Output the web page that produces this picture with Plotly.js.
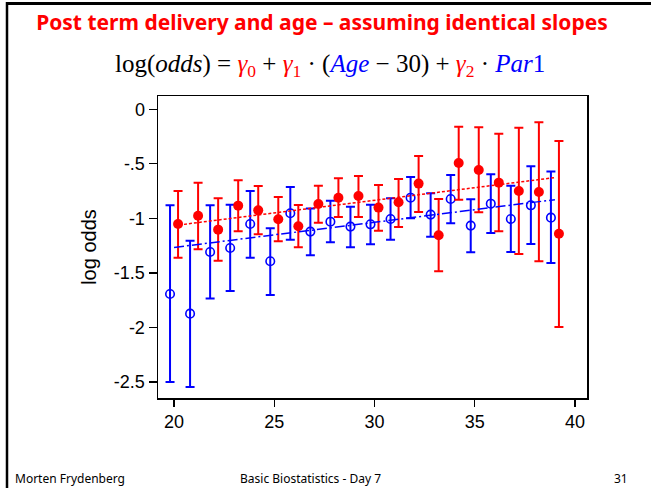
<!DOCTYPE html>
<html>
<head>
<meta charset="utf-8">
<script src="https://cdn.plot.ly/plotly-3.0.1.min.js"></script>
<style>
  html, body { margin: 0; padding: 0; background: #ffffff; }
  #chart { width: 651px; height: 488px; }
</style>
</head>
<body>
<div id="chart"></div>
<script>
// ---- data ----
const ages = [20,21,22,23,24,25,26,27,28,29,30,31,32,33,34,35,36,37,38,39];

// Parity 1 (blue, hollow): estimate, lower and upper CI
const blueEst   = [-1.693,-1.873,-1.308,-1.271,-1.051,-1.393,-0.953,-1.121,-1.030,-1.075,-1.054,-1.005,-0.810,-0.965,-0.822,-1.066,-0.865,-1.005,-0.880,-0.993];
const blueLower = [-2.499,-2.545,-1.735,-1.665,-1.360,-1.702,-1.195,-1.338,-1.219,-1.265,-1.237,-1.195,-0.999,-1.167,-1.045,-1.311,-1.134,-1.308,-1.234,-1.409];
const blueUpper = [-0.880,-1.204,-0.880,-0.874,-0.749,-1.091,-0.712,-0.910,-0.837,-0.892,-0.874,-0.816,-0.620,-0.770,-0.602,-0.825,-0.596,-0.700,-0.522,-0.571];

// Parity >1 (red, filled): estimate, lower and upper CI
const redEst   = [-1.051,-0.975,-1.103,-0.883,-0.926,-1.008,-1.072,-0.868,-0.810,-0.794,-0.901,-0.852,-0.681,-1.155,-0.492,-0.556,-0.672,-0.749,-0.758,-1.140];
const redLower = [-1.360,-1.283,-1.387,-1.118,-1.146,-1.210,-1.265,-1.039,-0.987,-0.987,-1.112,-1.078,-0.941,-1.485,-0.828,-0.944,-1.118,-1.326,-1.393,-1.995];
const redUpper = [-0.749,-0.672,-0.816,-0.651,-0.703,-0.804,-0.877,-0.700,-0.632,-0.611,-0.694,-0.639,-0.428,-0.822,-0.159,-0.165,-0.223,-0.168,-0.119,-0.290];

// fitted lines (identical slopes), end points
const fitAges = [20, 39];
const redFit  = [-1.066, -0.626];
const blueFit = [-1.266, -0.828];

// tick labels
const yTickVals = [0, -0.5, -1, -1.5, -2, -2.5];
const yTickText = ['0', '-.5', '-1', '-1.5', '-2', '-2.5'];
const xTickVals = [20, 25, 30, 35, 40];
const xTickText = ['20', '25', '30', '35', '40'];

// ---- drawing ----
const W = 651, H = 488;
const M = {l: 158, r: 64, t: 96, b: 90};
const PW = W - M.l - M.r, PH = H - M.t - M.b;
const fx = px => (px - M.l) / PW;
const fy = py => (H - M.b - py) / PH;

const blueX = ages.map(a => a - 0.2);
const redX  = ages.map(a => a + 0.2);

const traces = [
  {
    x: blueX, y: blueEst, type: 'scatter', mode: 'markers',
    marker: {symbol: 'circle-open', size: 8.5, color: '#0000ff', line: {width: 1.6, color: '#0000ff'}},
    error_y: {
      type: 'data', symmetric: false,
      array: blueUpper.map((u, i) => u - blueEst[i]),
      arrayminus: blueLower.map((l, i) => blueEst[i] - l),
      color: '#0000ff', thickness: 2, width: 4.5
    },
    hoverinfo: 'skip'
  },
  {
    x: redX, y: redEst, type: 'scatter', mode: 'markers',
    marker: {symbol: 'circle', size: 10, color: '#ff0000', line: {width: 0}},
    error_y: {
      type: 'data', symmetric: false,
      array: redUpper.map((u, i) => u - redEst[i]),
      arrayminus: redLower.map((l, i) => redEst[i] - l),
      color: '#ff0000', thickness: 2, width: 4.5
    },
    hoverinfo: 'skip'
  },
  {
    x: fitAges, y: redFit, type: 'scatter', mode: 'lines',
    line: {color: '#ff0000', width: 1.5, dash: '3px,2px'}, hoverinfo: 'skip'
  },
  {
    x: fitAges, y: blueFit, type: 'scatter', mode: 'lines',
    line: {color: '#0000ff', width: 1.5, dash: '10px,3px,2px,3px'}, hoverinfo: 'skip'
  }
];

const footFont = {family: 'Comic Sans MS, Noto Sans, sans-serif', size: 12, color: '#000000'};

const layout = {
  width: W, height: H,
  margin: M,
  paper_bgcolor: '#ffffff', plot_bgcolor: '#ffffff',
  showlegend: false,
  font: {family: 'Liberation Sans, Arial, sans-serif', size: 18, color: '#000000'},
  title: {
    text: '<b>Post term delivery and age \u2013 assuming identical slopes</b>',
    font: {family: 'Comic Sans MS, Noto Sans, sans-serif', size: 21, color: '#ff0000'},
    x: 322 / W, xref: 'container', xanchor: 'center',
    y: 1 - 23 / H, yref: 'container', yanchor: 'middle'
  },
  xaxis: {
    range: [19.2, 40.6],
    tickvals: xTickVals, ticktext: xTickText,
    ticks: 'outside', ticklen: 7, tickwidth: 1.2, tickcolor: '#000000',
    showline: true, linecolor: '#000000', linewidth: 1.5, mirror: true,
    showgrid: false, zeroline: false,
    tickfont: {family: 'Liberation Sans, Arial, sans-serif', size: 18}
  },
  yaxis: {
    range: [-2.646, 0.122],
    tickvals: yTickVals, ticktext: yTickText,
    ticks: 'outside', ticklen: 8, tickwidth: 1.2, tickcolor: '#000000',
    showline: true, linecolor: '#000000', linewidth: 1.5, mirror: true,
    showgrid: false, zeroline: false,
    tickfont: {family: 'Liberation Sans, Arial, sans-serif', size: 18},
    title: {text: 'log odds', font: {family: 'Liberation Sans, Arial, sans-serif', size: 20}, standoff: 12}
  },
  annotations: [
    {
      xref: 'paper', yref: 'paper', x: fx(330), y: fy(66), xanchor: 'center', yanchor: 'middle',
      showarrow: false,
      font: {family: 'Liberation Serif, Times New Roman, serif', size: 25, color: '#000000'},
      text: 'log(<i>odds</i>) = <span style="color:#ff0000"><i>\u03b3</i><sub>0</sub></span> + ' +
            '<span style="color:#ff0000"><i>\u03b3</i><sub>1</sub></span> \u00b7 (<span style="color:#0000ff"><i>Age</i></span> \u2212 30) + ' +
            '<span style="color:#ff0000"><i>\u03b3</i><sub>2</sub></span> \u00b7 <span style="color:#0000ff"><i>Par</i>1</span>'
    },
    {xref: 'paper', yref: 'paper', x: fx(13), y: fy(478), xanchor: 'left', yanchor: 'middle',
     showarrow: false, font: footFont, text: 'Morten Frydenberg'},
    {xref: 'paper', yref: 'paper', x: fx(238), y: fy(478), xanchor: 'left', yanchor: 'middle',
     showarrow: false, font: footFont, text: 'Basic Biostatistics - Day 7'},
    {xref: 'paper', yref: 'paper', x: fx(621), y: fy(478), xanchor: 'center', yanchor: 'middle',
     showarrow: false, font: footFont, text: '31'}
  ],
  shapes: [
    {type: 'line', xref: 'paper', yref: 'paper', x0: fx(7), x1: fx(7), y0: fy(2), y1: fy(490),
     line: {color: '#000000', width: 2.5}},
    {type: 'line', xref: 'paper', yref: 'paper', x0: fx(6), x1: fx(652), y0: fy(3.5), y1: fy(3.5),
     line: {color: '#000000', width: 3}}
  ]
};

Plotly.newPlot('chart', traces, layout, {displayModeBar: false, staticPlot: true});
</script>
</body>
</html>
